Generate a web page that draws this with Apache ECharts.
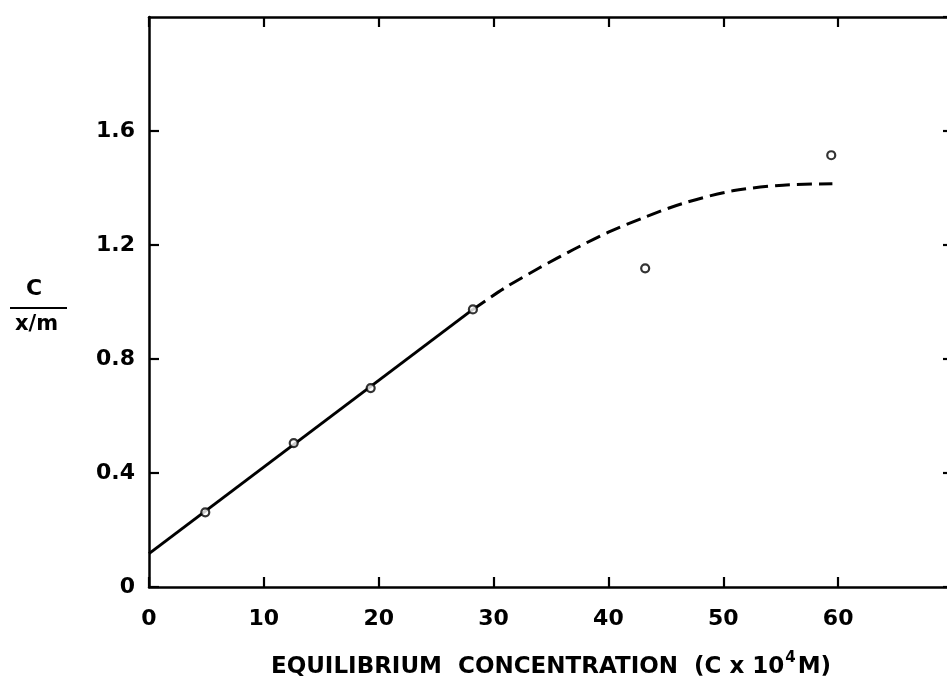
<!DOCTYPE html>
<html>
<head>
<meta charset="utf-8">
<script src="https://cdn.jsdelivr.net/npm/echarts@6/dist/echarts.min.js"></script>
<style>
html,body{margin:0;padding:0;overflow:hidden;background:#fff;}
#chart{width:960px;height:684px;}
</style>
</head>
<body>
<div id="chart"></div>
<script>
// Observed data points (C x 10^4 M, C/(x/m))
const pointsX = [4.9, 12.6, 19.3, 28.2, 43.2, 59.4];
const pointsY = [0.262, 0.505, 0.698, 0.974, 1.118, 1.515];
// Solid straight fit line
const solidX = [0, 28.2];
const solidY = [0.117, 0.974];
// Dashed extrapolated curve
const dashX = [28.2, 31, 34, 37, 40, 43, 46.4, 50.8, 55.2, 59.5];
const dashY = [0.974, 1.05, 1.12, 1.185, 1.245, 1.295, 1.345, 1.39, 1.41, 1.415];
// Axis settings
const xTicks = [0, 10, 20, 30, 40, 50, 60, 70];
const yTicks = [0, 0.4, 0.8, 1.2, 1.6, 2.0];

const zip = (a, b) => a.map((v, i) => [v, b[i]]);
const FONT = 'DejaVu Sans';
const axisStyle = {onZero: false, lineStyle: {color: '#000', width: 2.5}};
const tickStyle = {show: true, inside: true, length: 10, lineStyle: {color: '#000', width: 2.2}};

const chart = echarts.init(document.getElementById('chart'));
chart.setOption({
  animation: false,
  backgroundColor: '#fff',
  grid: {left: 149, right: 7, top: 17, bottom: 92},
  xAxis: [{
    type: 'value', position: 'bottom',
    min: xTicks[0], max: xTicks[xTicks.length - 1], interval: 10,
    axisLine: axisStyle, axisTick: tickStyle, splitLine: {show: false},
    axisLabel: {color: '#000', fontFamily: FONT, fontWeight: 'bold', fontSize: 22, margin: 21, showMaxLabel: false},
    name: '{a|EQUILIBRIUM  CONCENTRATION  (C x 10}{s|4}{a|M)}',
    nameLocation: 'middle', nameGap: 62,
    nameTextStyle: {
      rich: {
        a: {color: '#000', fontFamily: FONT, fontWeight: 'bold', fontSize: 23, lineHeight: 30, verticalAlign: 'bottom'},
        s: {color: '#000', fontFamily: FONT, fontWeight: 'bold', fontSize: 15, lineHeight: 30, verticalAlign: 'top', padding: [2, 2, 0, 1]}
      }
    }
  }, {
    type: 'value', position: 'top',
    min: xTicks[0], max: xTicks[xTicks.length - 1], interval: 10,
    axisLine: axisStyle, axisTick: tickStyle, splitLine: {show: false},
    axisLabel: {show: false}
  }],
  yAxis: [{
    type: 'value', position: 'left',
    min: yTicks[0], max: yTicks[yTicks.length - 1], interval: 0.4,
    axisLine: axisStyle, axisTick: tickStyle, splitLine: {show: false},
    axisLabel: {color: '#000', fontFamily: FONT, fontWeight: 'bold', fontSize: 22, margin: 14, showMaxLabel: false,
      formatter: v => v === 0 ? '0' : v.toFixed(1)}
  }, {
    type: 'value', position: 'right',
    min: yTicks[0], max: yTicks[yTicks.length - 1], interval: 0.4,
    axisLine: axisStyle, axisTick: tickStyle, splitLine: {show: false},
    axisLabel: {show: false}
  }],
  graphic: [
    {type: 'text', left: 26, top: 278, style: {text: 'C', fill: '#000', font: 'bold 22px "DejaVu Sans"'}},
    {type: 'line', shape: {x1: 10, y1: 308, x2: 67, y2: 308}, style: {stroke: '#000', lineWidth: 2}},
    {type: 'text', left: 15, top: 314, style: {text: 'x/m', fill: '#000', font: 'bold 21px "DejaVu Sans"'}}
  ],
  series: [{
    type: 'line', data: zip(solidX, solidY), showSymbol: false, symbol: 'none',
    lineStyle: {color: '#000', width: 3}, z: 2
  }, {
    type: 'line', data: zip(dashX, dashY), showSymbol: false, symbol: 'none', smooth: 0.3,
    lineStyle: {color: '#000', width: 3, type: [15, 7]}, z: 2
  }, {
    type: 'scatter', data: zip(pointsX, pointsY), symbol: 'circle', symbolSize: 8,
    itemStyle: {color: '#fff', borderColor: '#000', borderWidth: 2.2}, z: 3
  }]
});
</script>
</body>
</html>
